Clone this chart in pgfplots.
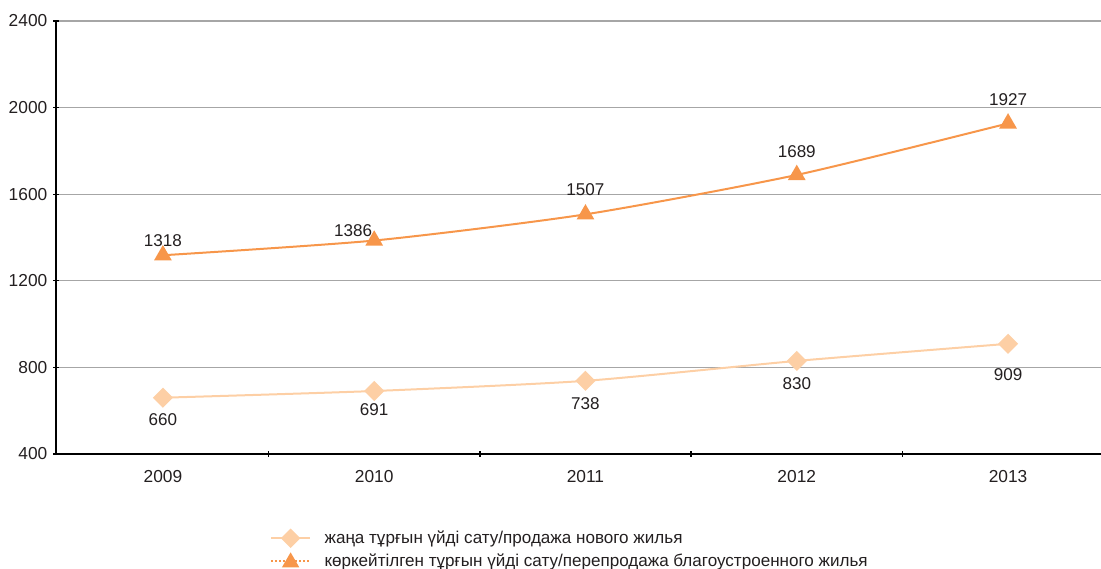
\documentclass[border=0pt]{standalone}
\usepackage{fontspec}
\setmainfont{Liberation Sans}
\usepackage{pgfplots}
\usepackage{pgfplotstable}
\pgfplotsset{compat=1.18}

\definecolor{newc}{HTML}{FDCFA5}
\definecolor{resc}{HTML}{F7964A}
\definecolor{gridc}{HTML}{A6A6A6}
\definecolor{txt}{HTML}{231F20}

% x = year index (2009 = 0), dx/dy = label offset in pt
\pgfplotstableread{
x y dx dy
0 660 0 -16.5
1 691 0 -14.25
2 738 0 -17.25
3 830 0 -17.25
4 909 0 -23.25
}\newdata
\pgfplotstableread{
x y dx dy
0 1318 0 11.25
1 1386 -15.75 7.5
2 1507 0 18.75
3 1689 0 17.25
4 1927 0 18
}\resdata

\begin{document}
\begin{tikzpicture}
\begin{axis}[
  scale only axis,
  width=783.75pt, height=324.75pt,
  xmin=-0.506, xmax=4.44,
  ymin=400, ymax=2400,
  ytick={400,800,...,2400},
  xtick={0,1,2,3,4},
  xticklabels={2009,2010,2011,2012,2013},
  minor xtick={0.5,1.5,2.5,3.5},
  major x tick style={draw=none},
  minor tick length=4pt,
  major tick length=4pt,
  tick align=outside,
  tick style={black, line width=1pt},
  axis x line=bottom, axis y line=left,
  axis line style={black, line width=1.5pt, -},
  ymajorgrids,
  grid style={gridc, line width=1pt},
  font=\fontsize{13}{15}\selectfont,
  tick label style={txt, font=\fontsize{13}{15}\selectfont},
  yticklabel style={xshift=-1pt},
  xticklabel style={yshift=-7pt},
  /pgf/number format/1000 sep={},
  /pgf/number format/assume math mode=true,
  clip=false,
  legend style={at={(0.2048,-0.171)}, anchor=north west, draw=none, fill=none,
    inner sep=0pt, row sep=2pt, font=\fontsize{12.8}{15}\selectfont,
    nodes={text=txt, inner sep=2pt}},
  legend cell align=left,
  lbl/.style={
    point meta=explicit,
    nodes near coords,
    visualization depends on={\thisrow{dx} \as \dx},
    visualization depends on={\thisrow{dy} \as \dy},
    every node near coord/.append style={anchor=center, txt,
      font=\fontsize{12.8}{15}\selectfont, xshift=\dx, yshift=\dy}},
]
\addplot[newc, line width=1.5pt, smooth, tension=0.4, mark=square*,
  mark size=4.6pt, mark options={rotate=45, solid}, lbl,
  legend image code/.code={
    \draw[newc, line width=1.5pt] (0pt,0pt) -- (29pt,0pt);
    \fill[newc, rotate around={45:(14.5pt,0pt)}] (10.1pt,-4.4pt) rectangle (18.9pt,4.4pt);
    \path[draw=none, fill=none] (0pt,0pt) rectangle (38pt,0.1pt);}]
  table[x=x, y=y, meta=y] {\newdata};
\addlegendentry{жаңа тұрғын үйді сату/продажа нового жилья}
\addplot[resc, line width=1.5pt, smooth, tension=0.4, mark=triangle*,
  mark size=6.2pt, mark options={solid}, lbl,
  legend image code/.code={
    \draw[resc, dotted, line width=1pt] (0pt,0pt) -- (29pt,0pt);
    \fill[resc] (9.3pt,-4pt) -- (19.7pt,-4pt) -- (14.5pt,5pt) -- cycle;
    \path[draw=none, fill=none] (0pt,0pt) rectangle (38pt,0.1pt);}]
  table[x=x, y=y, meta=y] {\resdata};
\addlegendentry{көркейтілген тұрғын үйді сату/перепродажа благоустроенного жилья}
\end{axis}
\pgfresetboundingbox
\path ([shift={(-42pt,-85.5pt)}]current axis.south west)
  rectangle ([shift={(0pt,15.75pt)}]current axis.north east);
\end{tikzpicture}
\end{document}
